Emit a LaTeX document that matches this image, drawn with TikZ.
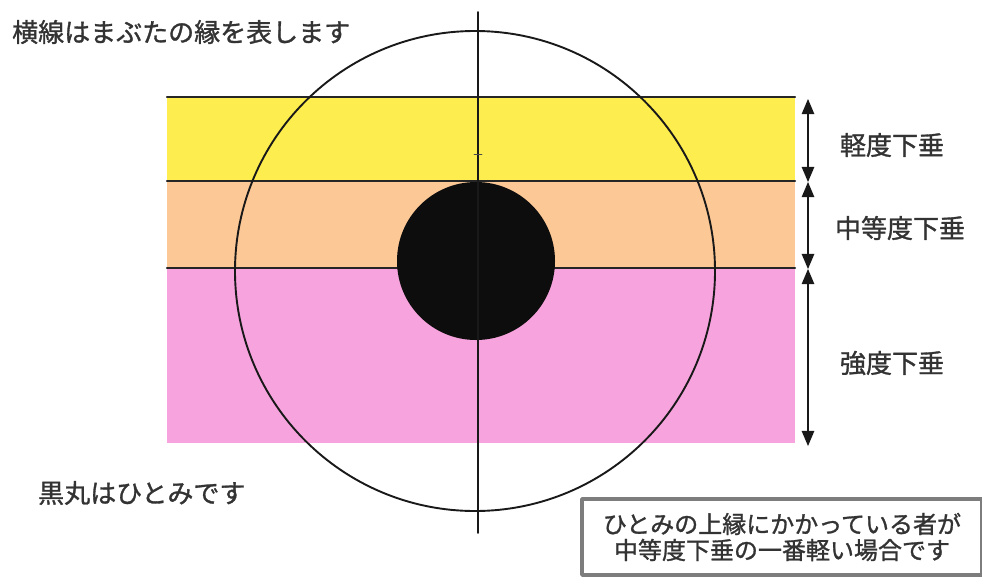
\documentclass[tikz,border=0pt]{standalone}
\usepackage{fontspec}
\newfontfamily\jpfont[FakeBold=1.2]{Noto Sans CJK JP}
\usetikzlibrary{arrows}
\definecolor{lidyellow}{RGB}{253,237,78}
\definecolor{lidorange}{RGB}{252,200,150}
\definecolor{lidpink}{RGB}{247,164,222}
\definecolor{notegray}{RGB}{125,125,125}
\tikzset{
  jptext/.style={font=\jpfont\fontsize{26}{30}\selectfont,text=black!80,inner sep=0pt},
  lidline/.style={line width=2.2pt,black!85},
  sidearrow/.style={<->,line width=2.6pt,black!90}
}
\begin{document}
\begin{tikzpicture}[line cap=round,line join=round,>=triangle 45,x=1pt,y=-1pt]
\useasboundingbox (0,0) rectangle (982,576);
% bands
\fill[lidyellow] (167,97) rectangle (795,181);
\fill[lidorange] (167,181) rectangle (795,268);
\fill[lidpink] (167,268) rectangle (795,443);
% eyelid edges
\draw[lidline] (167,97) -- (795,97);
\draw[lidline] (167,181) -- (795,181);
\draw[lidline] (167,268) -- (795,268);
% eye and pupil
\draw[line width=1.9pt,black!90] (475,271) circle (240pt);
\fill[black!95] (476,261) circle (79pt);
\draw[line width=1.9pt,black!90] (478,12) -- (478,533);
\draw[line width=0.8pt,black!70] (474,154) -- (482,154);
% side arrows
\coordinate (l0) at (808,99);
\coordinate (l1) at (808,182);
\coordinate (l2) at (808,269);
\coordinate (l3) at (808,446);
\draw[sidearrow] (l0) -- (l1);
\draw[sidearrow] (l1) -- (l2);
\draw[sidearrow] (l2) -- (l3);
\node[jptext] (mild) at (892,145) {軽度下垂};
\node[jptext] (moderate) at (900,228) {中等度下垂};
\node[jptext] (severe) at (892,363) {強度下垂};
% captions
\node[jptext,anchor=west] (lidnote) at (12,32) {横線はまぶたの縁を表します};
\node[jptext,anchor=west] (pupilnote) at (38,493) {黒丸はひとみです};
\node[draw=notegray,line width=3.5pt,minimum width=400pt,minimum height=76pt,
  align=center,font=\jpfont\fontsize{24}{26}\selectfont,text=black!80] (note) at (782,537)
  {ひとみの上縁にかかっている者が\\中等度下垂の一番軽い場合です};
\end{tikzpicture}
\end{document}
